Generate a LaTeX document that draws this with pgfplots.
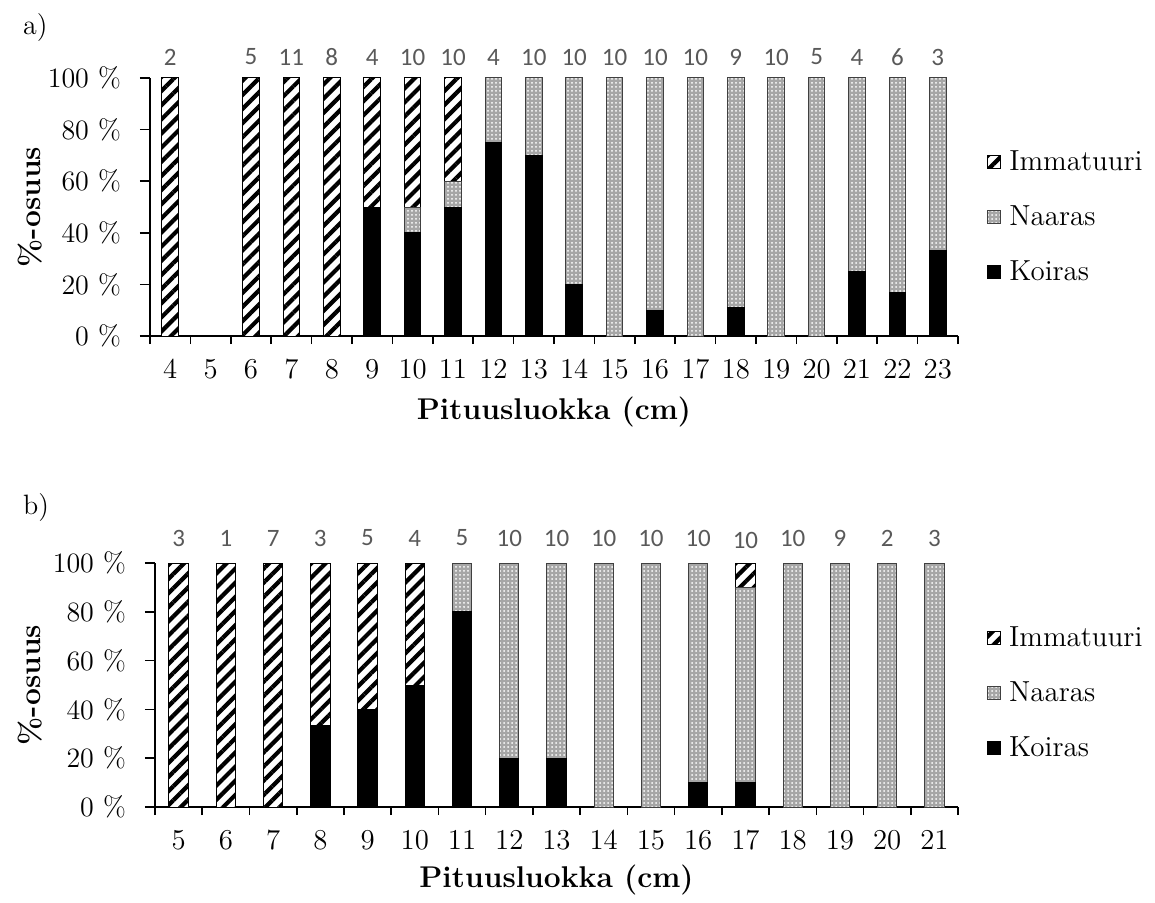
\documentclass[border=0pt]{standalone}
\usepackage{pgfplots}
\usepackage{pgfplotstable}
\pgfplotsset{compat=1.18}
\usepackage{fontspec}
\newfontfamily\calibri{Carlito}
\usetikzlibrary{patterns.meta}
\definecolor{naaras}{HTML}{A6A6A6}
\definecolor{naarasedge}{HTML}{404040}
\definecolor{cnt}{HTML}{595959}
\newcommand\fs{\fontsize{14}{17}\selectfont}

\pgfplotstableread{
x K N I T n
4 0 0 100 100 2
5 0 0 0 0 {}
6 0 0 100 100 5
7 0 0 100 100 11
8 0 0 100 100 8
9 50 0 50 100 4
10 40 10 50 100 10
11 50 10 40 100 10
12 75 25 0 100 4
13 70 30 0 100 10
14 20 80 0 100 10
15 0 100 0 100 10
16 10 90 0 100 10
17 0 100 0 100 10
18 11.1 88.9 0 100 9
19 0 100 0 100 10
20 0 100 0 100 5
21 25 75 0 100 4
22 16.7 83.3 0 100 6
23 33.3 66.7 0 100 3
}\dataA

\pgfplotstableread{
x K N I T n
5 0 0 100 100 3
6 0 0 100 100 1
7 0 0 100 100 7
8 33.3 0 66.7 100 3
9 40 0 60 100 5
10 50 0 50 100 4
11 80 20 0 100 5
12 20 80 0 100 10
13 20 80 0 100 10
14 0 100 0 100 10
15 0 100 0 100 10
16 10 90 0 100 10
17 10 80 10 98.8 10
18 0 100 0 100 10
19 0 100 0 100 9
20 0 100 0 100 2
21 0 100 0 100 3
}\dataB

\pgfplotsset{
  common/.style={
    scale only axis,
    ybar stacked,
    bar width=0.41,
    enlargelimits=false,
    ymin=0, ymax=100,
    axis lines*=left,
    axis line style={line width=0.8pt},
    tick align=outside,
    major tick length=5pt,
    minor tick length=4pt,
    tick style={black, line width=0.8pt},
    major x tick style={draw=none},
    ytick={0,20,...,100},
    yticklabels={0 \%,20 \%,40 \%,60 \%,80 \%,100 \%},
    ticklabel style={font=\fs},
    xticklabel shift=3.5pt,
    yticklabel shift=6pt,
    xlabel={Pituusluokka (cm)},
    ylabel={\%-osuus},
    label style={font=\fontsize{15}{18}\selectfont\bfseries},
    legend style={draw=none, fill=none, font=\fontsize{14.5}{17}\selectfont, row sep=12pt,
      inner sep=0pt, legend cell align=left,
      nodes={inner xsep=4pt}},
    reverse legend,
    legend image code/.code={\draw[##1] (0pt,-3.2pt) rectangle (6.4pt,3.2pt);},
  },
  labelaxis/.style={
    scale only axis, hide axis, clip=false, enlargelimits=false,
    ymin=0, ymax=100,
  },
  koiras/.style={fill=black, draw=black, line width=0.5pt},
  naaras/.style={preaction={fill=naaras}, pattern={Dots[distance=2pt,radius=0.5pt]},
      pattern color=white, draw=naarasedge, line width=0.5pt},
  immat/.style={preaction={fill=white}, pattern={Lines[angle=45,distance=5pt,line width=2.1pt]},
      pattern color=black, draw=black, line width=0.5pt},
  countlabels/.style={draw=none, mark=none, nodes near coords, point meta=explicit symbolic,
      nodes near coords style={anchor=center, yshift=#1, font=\calibri\fontsize{12.5}{15}\selectfont, text=cnt}},
}

\begin{document}
\begin{tikzpicture}
\path[use as bounding box] (0,0) rectangle (577.5pt,-451.5pt);
\node[anchor=west, font=\fs] at (8pt,-14pt) {a)};
\node[anchor=west, font=\fs] at (8pt,-254pt) {b)};

\begin{axis}[common,
  at={(75pt,-168pt)}, anchor=south west,
  width=404pt, height=129pt,
  xmin=3.5, xmax=23.5,
  xtick={4,...,23},
  minor xtick={3.5,4.5,...,23.5},
  xlabel style={at={(axis description cs:0.5,-0.295)}, anchor=center},
  ylabel style={at={(axis description cs:-0.1485,0.5)}, anchor=center},
  legend style={at={(1.036,0.461)}, anchor=west},
]
\addplot[koiras] table[x=x,y=K] {\dataA};
\addlegendentry{Koiras}
\addplot[naaras] table[x=x,y=N] {\dataA};
\addlegendentry{Naaras}
\addplot[immat] table[x=x,y=I] {\dataA};
\addlegendentry{Immatuuri}
\end{axis}
\begin{axis}[labelaxis,
  at={(75pt,-168pt)}, anchor=south west,
  width=404pt, height=129pt,
  xmin=3.5, xmax=23.5,
]
\addplot[countlabels=10.5pt] table[x=x,y=T,meta=n] {\dataA};
\end{axis}

\begin{axis}[common,
  at={(77.5pt,-403.5pt)}, anchor=south west,
  width=401.5pt, height=122pt,
  xmin=4.5, xmax=21.5,
  xtick={5,...,21},
  minor xtick={4.5,5.5,...,21.5},
  xlabel style={at={(axis description cs:0.5,-0.299)}, anchor=center},
  ylabel style={at={(axis description cs:-0.1557,0.5)}, anchor=center},
  legend style={at={(1.036,0.467)}, anchor=west},
]
\addplot[koiras] table[x=x,y=K] {\dataB};
\addlegendentry{Koiras}
\addplot[naaras] table[x=x,y=N] {\dataB};
\addlegendentry{Naaras}
\addplot[immat] table[x=x,y=I] {\dataB};
\addlegendentry{Immatuuri}
\end{axis}
\begin{axis}[labelaxis,
  at={(77.5pt,-403.5pt)}, anchor=south west,
  width=401.5pt, height=122pt,
  xmin=4.5, xmax=21.5,
]
\addplot[countlabels=12.5pt] table[x=x,y=T,meta=n] {\dataB};
\end{axis}
\end{tikzpicture}
\end{document}
